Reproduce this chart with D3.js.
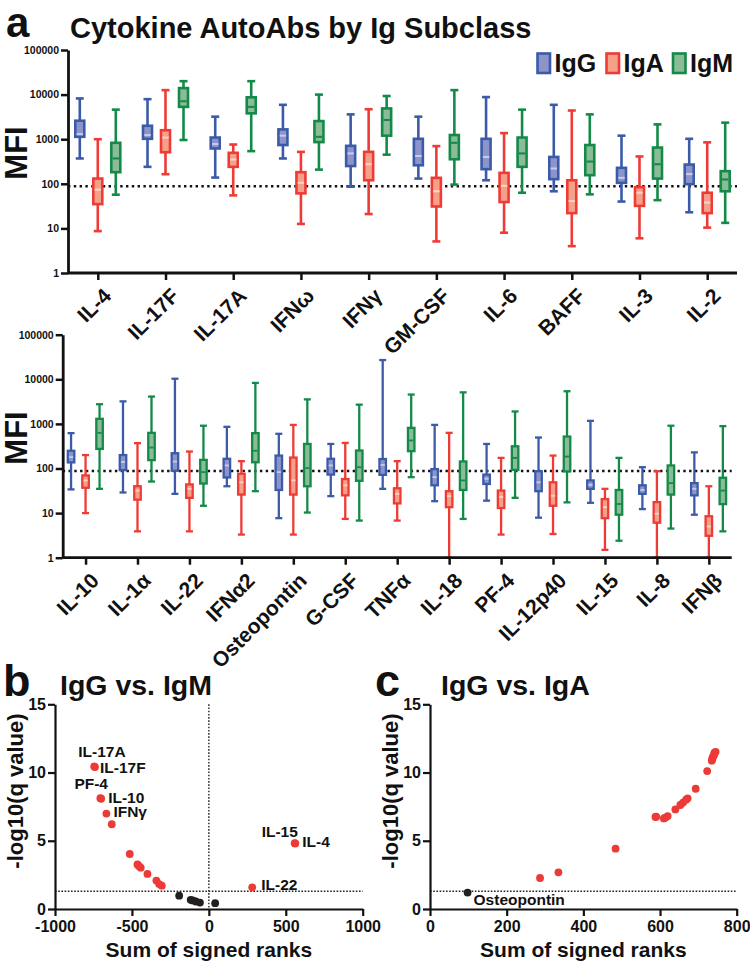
<!DOCTYPE html>
<html><head><meta charset="utf-8">
<script src="https://cdn.jsdelivr.net/npm/d3@7"></script>
<style>
body{margin:0;background:#fff}
svg{display:block}
text{font-family:"Liberation Sans",Arial,Helvetica,sans-serif;font-weight:bold;fill:#111}
</style>
</head><body>
<svg id="chart" width="750" height="969"></svg>
<script>
// ---------- DATA ----------
// box stats: [min, q1, median, q3, max]
const topCats = ["IL-4","IL-17F","IL-17A","IFNω","IFNγ","GM-CSF","IL-6","BAFF","IL-3","IL-2"];
const topIgG = [[370,1130,1300,2600,8200],[240,1020,1240,2000,7900],[138,620,780,1090,3200],[370,740,1200,1660,5900],[86,250,480,710,3600],[131,260,420,1020,3200],[120,213,400,1020,8800],[68,127,220,400,5900],[40,105,136,228,1200],[23,98,165,270,1020]];
const topIgA = [[8.7,35,74,131,1000],[164,510,1090,1590,12600],[55,240,350,495,760],[12.6,61,105,182,520],[21,120,275,520,4700],[5.1,31,68,136,700],[8,39,90,176,1370],[4,22,41,120,4400],[6,32,63,84,410],[10.4,22,38,63,850]];
const topIgM = [[57,182,370,830,4600],[960,5300,7100,14000,20000],[540,3800,5300,8700,20000],[208,860,1130,2550,10000],[450,1200,2700,4900,9300],[96,355,830,1240,12600],[63,240,480,1090,4600],[58,156,315,740,3600],[43,131,275,650,2150],[13.3,68,125,192,2350]];

const botCats = ["IL-10","IL-1α","IL-22","IFNα2","Osteopontin","G-CSF","TNFα","IL-18","PF-4","IL-12p40","IL-15","IL-8","IFNβ"];
const botIgG = [[34,137,180,250,620],[29,92,140,200,3200],[27,89,143,220,10300],[40,63,117,165,860],[7.7,33,83,195,600],[24,73,117,165,355],[35,72,120,163,27000],[18.5,42,64,97,950],[19,45,59,73,355],[7.9,31,49,87,495],[17,35,43,54,1170],[12.3,27,33,42,107],[9.2,25,35,47,230]];
const botIgA = [[10,37,54,70,200],[3.9,20,32,40,370],[3.9,22,35,44,240],[3.3,26,49,76,146],[3.3,26,54,176,950],[7.4,25,42,58,375],[6.8,16.5,27,36,146],[1,13.6,24,31,630],[3.3,13,23,32,173],[3.4,14.6,24.5,49,195],[1.5,7.7,13.6,20.6,35],[1,6.1,9.7,17.6,87],[1,3.1,5,8.5,40]];
const botIgM = [[35,275,630,1300,2760],[51,154,295,630,4100],[14.6,46,83,156,910],[31,138,250,620,8300],[10.3,40,102,355,3550],[6.8,53,107,253,2700],[64,245,425,815,4550],[7.4,33,54,144,5100],[22,93,173,315,1900],[17.4,86,185,520,5400],[2.4,9.2,16,33,173],[4.5,26,47,117,910],[3.9,15.9,32,62,890]];

const mfiTicks = [1,10,100,1000,10000,100000];
const cutoffMFI = 88;
const subclasses = ["IgG","IgA","IgM"];

// panel b: IgG vs IgM
const bNames = ["IL-17A","IL-17F","PF-4","IL-10","IFNγ","","","","","","","","","","","","","","","","IL-22","IL-15","IL-4"];
const bX = [-745,-740,-705,-700,-666,-631,-514,-464,-455,-443,-399,-341,-323,-306,-193,-118,-105,-85,-58,41,282,558,562];
const bY = [10.45,10.40,8.12,8.08,6.99,6.21,4.03,3.27,3.15,3.03,2.57,2.08,1.83,1.71,0.98,0.67,0.63,0.55,0.47,0.43,1.59,4.82,4.80];
const bXTicks = [-1000,-500,0,500,1000];

// panel c: IgG vs IgA
const cNames = ["Osteopontin"];
const cX = [98,287,335,484,588,590,610,614,620,640,653,660,668,672,693,723,735,736,737,739,741,742,745];
const cY = [1.20,2.27,2.69,4.42,6.74,6.76,6.64,6.70,6.81,7.30,7.62,7.80,8.01,8.11,8.81,10.11,10.87,10.95,11.09,11.20,11.31,11.45,11.52];
const cXTicks = [0,200,400,600,800];
const qTicks = [0,5,10,15];
const qCut = 1.3;

// ---------- DRAW ----------
const svg = d3.select("#chart");
const COL = {
  IgG:{stroke:"#3b5ba9", fill:"#8c94ca", med:"#c7cbea"},
  IgA:{stroke:"#ee3b36", fill:"#f5a18a", med:"#fbd3c6"},
  IgM:{stroke:"#148a48", fill:"#8bbb98", med:"#148a48"}
};

function boxPanel(cfg){
  const {cats, series, x0, x1, yTop, yBot, off, boxW, capW, sw} = cfg;
  const x = d3.scalePoint().domain(cats).range([x0,x1]).padding(0.44);
  const y = d3.scaleLog().domain([1,100000]).range([yBot,yTop]);
  const g = svg.append("g");

  g.append("line").attr("x1",x0).attr("x2",x1).attr("y1",y(cutoffMFI)).attr("y2",y(cutoffMFI))
    .attr("stroke","#111").attr("stroke-width",2.6).attr("stroke-dasharray","2.4,3.4");

  series.forEach((arr, si) => {
    const c = COL[subclasses[si]];
    arr.forEach((d, i) => {
      const cx = x(cats[i]) + off[si];
      const [mn,q1,md,q3,mx] = d;
      g.append("line").attr("x1",cx).attr("x2",cx).attr("y1",y(mx)).attr("y2",y(mn))
        .attr("stroke",c.stroke).attr("stroke-width",sw);
      [mn,mx].forEach(v => g.append("line").attr("x1",cx-capW/2).attr("x2",cx+capW/2)
        .attr("y1",y(v)).attr("y2",y(v)).attr("stroke",c.stroke).attr("stroke-width",sw));
      g.append("rect").attr("x",cx-boxW/2).attr("width",boxW).attr("y",y(q3)).attr("height",y(q1)-y(q3))
        .attr("fill",c.fill).attr("stroke",c.stroke).attr("stroke-width",sw);
      g.append("line").attr("x1",cx-boxW/2+sw/2).attr("x2",cx+boxW/2-sw/2).attr("y1",y(md)).attr("y2",y(md))
        .attr("stroke",c.med).attr("stroke-width",sw*0.8);
    });
  });

  const ya = g.append("g").attr("transform",`translate(${x0},0)`)
    .call(d3.axisLeft(y).tickValues(mfiTicks).tickFormat(d3.format("d")).tickSize(7).tickSizeOuter(0).tickPadding(2));
  ya.select(".domain").attr("stroke","#111").attr("stroke-width",2.8);
  ya.selectAll(".tick line").attr("stroke","#111").attr("stroke-width",2.5);
  ya.selectAll(".tick text").style("font-size","10.5px").attr("fill","#111");

  const xa = g.append("g").attr("transform",`translate(0,${yBot})`)
    .call(d3.axisBottom(x).tickSize(7).tickSizeOuter(0));
  xa.select(".domain").attr("stroke","#111").attr("stroke-width",2.8).attr("d",`M${x0},0H${x1}`);
  xa.selectAll(".tick line").attr("stroke","#111").attr("stroke-width",2.5);
  xa.selectAll(".tick text").style("font-size","21px").attr("fill","#111")
    .attr("text-anchor","end").attr("dy","0.35em").attr("y",0)
    .attr("transform","translate(9,19) rotate(-45)");
  return {x,y};
}

boxPanel({cats:topCats, series:[topIgG,topIgA,topIgM], x0:68, x1:737, yTop:50, yBot:273,
  off:[-18,0,18], boxW:9, capW:8, sw:2.6});
boxPanel({cats:botCats, series:[botIgG,botIgA,botIgM], x0:62.7, x1:731.7, yTop:334.7, yBot:557.7,
  off:[-14.5,0,14], boxW:6.5, capW:7, sw:2.3});

svg.append("text").attr("transform","translate(27,153) rotate(-90)").attr("text-anchor","middle")
  .style("font-size","31px").text("MFI");
svg.append("text").attr("transform","translate(27,438) rotate(-90)").attr("text-anchor","middle")
  .style("font-size","31px").text("MFI");

svg.append("text").attr("x",6).attr("y",37).style("font-size","42px").text("a");
svg.append("text").attr("x",70).attr("y",38).style("font-size","29px").text("Cytokine AutoAbs by Ig Subclass");

const legX = [537.5, 606.5, 673];
subclasses.forEach((s,i)=>{
  svg.append("rect").attr("x",legX[i]).attr("y",53.5).attr("width",12.5).attr("height",19.5)
    .attr("fill",COL[s].fill).attr("stroke",COL[s].stroke).attr("stroke-width",2.6);
  svg.append("text").attr("x",legX[i]+17).attr("y",72).style("font-size","25px").text(s);
});

function scatter(cfg){
  const {xs, ys, names, xDom, xTicks, x0, x1, vline, letter, letterX, title, titleX, labelOff} = cfg;
  const x = d3.scaleLinear().domain(xDom).range([x0,x1]);
  const y = d3.scaleLinear().domain([0,15]).range([909,704.3]);
  const g = svg.append("g");
  g.append("line").attr("x1",x0).attr("x2",x1).attr("y1",y(qCut)).attr("y2",y(qCut))
    .attr("stroke","#222").attr("stroke-width",1.4).attr("stroke-dasharray","1.6,1.6");
  if (vline) g.append("line").attr("x1",x(0)).attr("x2",x(0)).attr("y1",y(15)).attr("y2",y(0))
    .attr("stroke","#222").attr("stroke-width",1.4).attr("stroke-dasharray","1.6,1.6");

  const ya = g.append("g").attr("transform",`translate(${x0},0)`)
    .call(d3.axisLeft(y).tickValues(qTicks).tickSize(7).tickSizeOuter(0).tickPadding(2));
  const xa = g.append("g").attr("transform",`translate(0,909)`)
    .call(d3.axisBottom(x).tickValues(xTicks).tickFormat(d3.format("d")).tickSize(7).tickSizeOuter(0).tickPadding(5));
  [ya,xa].forEach(a=>{
    a.select(".domain").attr("stroke","#111").attr("stroke-width",2.2);
    a.selectAll(".tick line").attr("stroke","#111").attr("stroke-width",2.2);
    a.selectAll(".tick text").style("font-size","16px").attr("fill","#111");
  });
  xa.selectAll(".tick text").text(d=> d<0 ? "-"+Math.abs(d) : d);

  xs.forEach((v,i)=>{
    g.append("circle").attr("cx",x(v)).attr("cy",y(ys[i])).attr("r",3.9)
      .attr("fill", ys[i] > qCut ? "#ec3a36" : "#231f20");
  });
  names.forEach((n,i)=>{
    if(!n) return;
    const o = labelOff[n];
    g.append("text").attr("x",x(xs[i])+o[0]).attr("y",y(ys[i])+o[1]).style("font-size","15.5px").text(n);
  });

  svg.append("text").attr("x",letterX).attr("y",696).style("font-size","45px").text(letter);
  svg.append("text").attr("x",titleX).attr("y",695).style("font-size","28.5px").text(title);
  svg.append("text").attr("x",(x0+x1)/2).attr("y",957).attr("text-anchor","middle")
    .style("font-size","21px").text("Sum of signed ranks");
  svg.append("text").attr("transform",`translate(${x0-32},791) rotate(-90)`).attr("text-anchor","middle")
    .style("font-size","22px").text("-log10(q value)");
}

scatter({xs:bX, ys:bY, names:bNames, xDom:[-1000,1000], xTicks:bXTicks, x0:55, x1:362.7, vline:true,
  letter:"b", letterX:3, title:"IgG vs. IgM", titleX:60,
  labelOff:{"IL-17A":[-16,-9],"IL-17F":[5,6],"PF-4":[-26,-9],"IL-10":[7,4],"IFNγ":[7,3],
            "IL-15":[-33,-6.5],"IL-4":[7,3.5],"IL-22":[9,3]}});
scatter({xs:cX, ys:cY, names:cNames, xDom:[0,800], xTicks:cXTicks, x0:430, x1:736.7, vline:false,
  letter:"c", letterX:375, title:"IgG vs. IgA", titleX:441,
  labelOff:{"Osteopontin":[6,12.5]}});
</script>
</body></html>
